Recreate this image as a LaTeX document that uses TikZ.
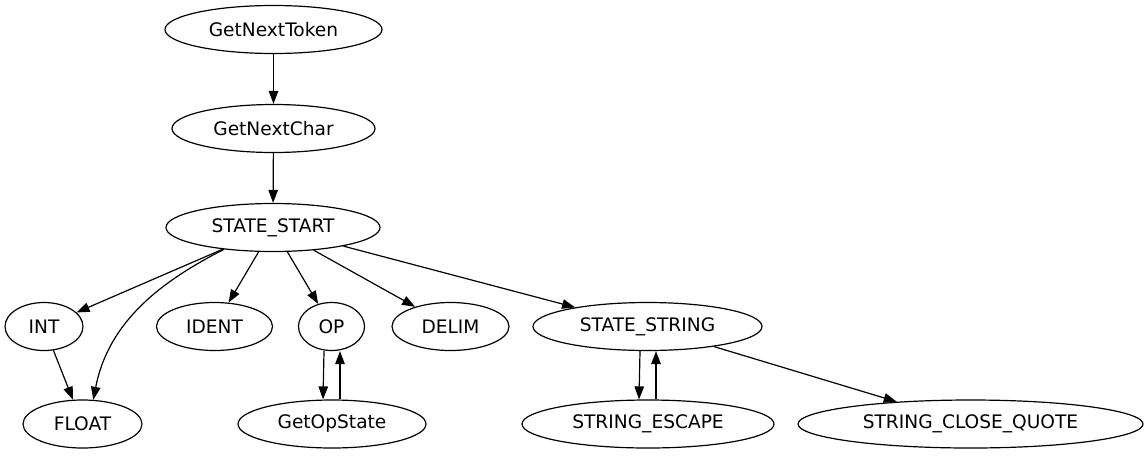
\documentclass[tikz,border=0pt]{standalone}
\usepackage{fontspec}
\setmainfont{DejaVu Sans}
\usetikzlibrary{shapes.geometric,arrows.meta}
\tikzset{
  st/.style={ellipse, draw, line width=1.2pt, inner sep=0pt, minimum height=48pt,
    font=\fontsize{18.6}{22}\selectfont},
  edge/.style={line width=1.2pt, -{Triangle[length=13pt,width=9.5pt]}}
}
\begin{document}
\begin{tikzpicture}[x=1pt,y=-1pt]
\useasboundingbox (0,0) rectangle (1148,456);
\node[st, minimum width=217pt] (gnt) at (273.5,29.5) {GetNextToken};
\node[st, minimum width=203pt] (gnc) at (273.5,128.5) {GetNextChar};
\node[st, minimum width=214pt] (ss) at (273,227.5) {STATE\_START};
\node[st, minimum width=78pt] (int) at (44,326.5) {INT};
\node[st, minimum width=116pt] (ident) at (214.5,326.5) {IDENT};
\node[st, minimum width=66pt] (op) at (331.5,326.5) {OP};
\node[st, minimum width=117pt] (delim) at (450.5,326.5) {DELIM};
\node[st, minimum width=229pt] (sstr) at (647.5,326.5) {STATE\_STRING};
\node[st, minimum width=119pt] (float) at (82.5,424) {FLOAT};
\node[st, minimum width=188pt] (gos) at (332,424) {GetOpState};
\node[st, minimum width=252pt] (sesc) at (648,424) {STRING\_ESCAPE};
\node[st, minimum width=345pt] (scq) at (970.5,424) {STRING\_CLOSE\_QUOTE};

\draw[edge] (gnt) -- (gnc);
\draw[edge] (gnc) -- (ss);
\draw[edge] (ss) -- (int);
\draw[edge] (ss.204) .. controls +(207:70pt) and +(79:80pt) .. (float.66);
\draw[edge] (ss) -- (ident);
\draw[edge] (ss) -- (op);
\draw[edge] (ss) -- (delim);
\draw[edge] (ss) -- (sstr);
\draw[edge] (int) -- (float);
\draw[edge] ([xshift=-7.5pt]op.south) -- ([xshift=-9pt]gos.north);
\draw[edge] ([xshift=8pt]gos.north) -- ([xshift=8.5pt]op.south);
\draw[edge] ([xshift=-7.5pt]sstr.south) -- ([xshift=-9pt]sesc.north);
\draw[edge] ([xshift=8pt]sesc.north) -- ([xshift=8.5pt]sstr.south);
\draw[edge] (sstr) -- (scq);
\end{tikzpicture}
\end{document}
